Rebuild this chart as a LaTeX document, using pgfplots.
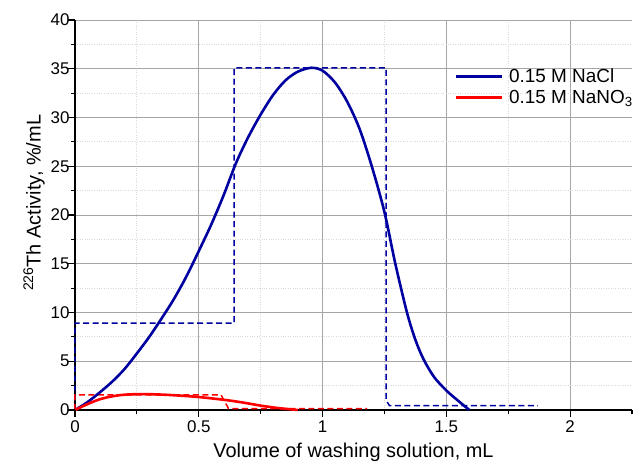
\documentclass[border=0pt]{standalone}
\usepackage{pgfplots}
\pgfplotsset{compat=1.18}
\usepackage{fontspec}
\setmainfont{Liberation Sans}
\definecolor{navyb}{RGB}{0,0,160}
\definecolor{redl}{RGB}{255,0,0}
\begin{document}
\begin{tikzpicture}
\begin{axis}[
 at={(0,0)}, anchor=south west,
 scale only axis, width=557bp, height=390bp,
 xmin=0, xmax=2.25, ymin=0, ymax=40,
 clip=false,
 axis x line*=bottom, axis y line*=left,
 axis line style={line width=1.3bp, black},
 xtick={0,0.5,1,1.5,2}, ytick={0,5,...,40},
 minor x tick num=1, minor y tick num=1,
 major tick length=0pt, minor tick length=0pt,
 grid=both,
 major grid style={gray!70, line width=0.8bp, solid},
 minor grid style={gray!30, dotted, line width=0.8bp},
 /pgf/number format/assume math mode=true,
 tick label style={font=\fontsize{17}{20}\selectfont},
 xticklabel style={yshift=-7bp},
 yticklabel style={xshift=-2bp},
 label style={font=\fontsize{20}{24}\selectfont},
 xlabel={Volume of washing solution, mL},
 ylabel={\textsuperscript{226}Th Activity, \%/mL},
 ylabel style={at={(ticklabel cs:0.531)}},
 ylabel shift=-1bp,
 xlabel shift=4bp,
 legend style={draw=none, fill=none, at={(0.681,0.880)}, anchor=north west,
   font=\fontsize{19}{23}\selectfont, row sep=2bp, inner sep=0pt},
 legend cell align=left,
 legend image code/.code={\draw[#1, line width=2.6bp] (0bp,0bp) -- (46bp,0bp); \path (50bp,0bp);},
]
% dashed step profiles
\addplot[navyb, line width=1.5bp, dash pattern=on 6bp off 3.5bp, forget plot] coordinates {
 (0,0) (0,8.9) (0.643,8.9) (0.643,35.1) (1.257,35.1) (1.257,1.0) (1.27,0.45) (1.87,0.45)};
\addplot[redl, line width=1.5bp, dash pattern=on 6bp off 3.5bp, forget plot] coordinates {
 (0,0) (0,1.55) (0.59,1.55) (0.62,0.15) (1.18,0.15)};
% solid curves
\addplot[navyb, line width=2.6bp, smooth] coordinates {
 (0,0) (0.05,0.8) (0.1,1.8) (0.15,2.9) (0.2,4.2) (0.25,5.8) (0.3,7.5)
 (0.35,9.4) (0.4,11.4) (0.45,13.7) (0.5,16.3) (0.55,19.0) (0.6,22.0)
 (0.65,25.3) (0.7,28.0) (0.75,30.3) (0.8,32.3) (0.85,33.8) (0.9,34.7)
 (0.955,35.1) (1.0,34.8) (1.05,33.6) (1.1,31.6) (1.15,28.8)
 (1.2,24.9) (1.25,20.3) (1.294,15.0) (1.341,10.0) (1.375,7.2)
 (1.408,5.2) (1.45,3.4) (1.5,2.0) (1.55,0.9) (1.593,0)};
\addlegendentry{0.15 M NaCl}
\addplot[redl, line width=2.6bp, smooth] coordinates {
 (0,0) (0.05,0.6) (0.1,1.1) (0.15,1.4) (0.2,1.57) (0.27,1.63) (0.35,1.58)
 (0.42,1.48) (0.5,1.33) (0.6,1.05) (0.67,0.8) (0.75,0.45) (0.82,0.2)
 (0.88,0.05) (0.9,0)};
\addlegendentry{0.15 M NaNO\textsubscript{3}}
% outward tick marks
\pgfplotsinvokeforeach{0,0.5,1,1.5,2}{\draw[black,line width=1.2bp] (axis cs:#1,0) -- ++(0bp,-7bp);}
\pgfplotsinvokeforeach{0.25,0.75,1.25,1.75,2.25}{\draw[black,line width=1.2bp] (axis cs:#1,0) -- ++(0bp,-4bp);}
\pgfplotsinvokeforeach{0,5,10,15,20,25,30,35,40}{\draw[black,line width=1.2bp] (axis cs:0,#1) -- ++(-7bp,0bp);}
\pgfplotsinvokeforeach{2.5,7.5,12.5,17.5,22.5,27.5,32.5,37.5}{\draw[black,line width=1.2bp] (axis cs:0,#1) -- ++(-4bp,0bp);}
\end{axis}
\pgfresetboundingbox
\useasboundingbox (-75bp,-59bp) rectangle (565bp,410bp);
\end{tikzpicture}
\end{document}
